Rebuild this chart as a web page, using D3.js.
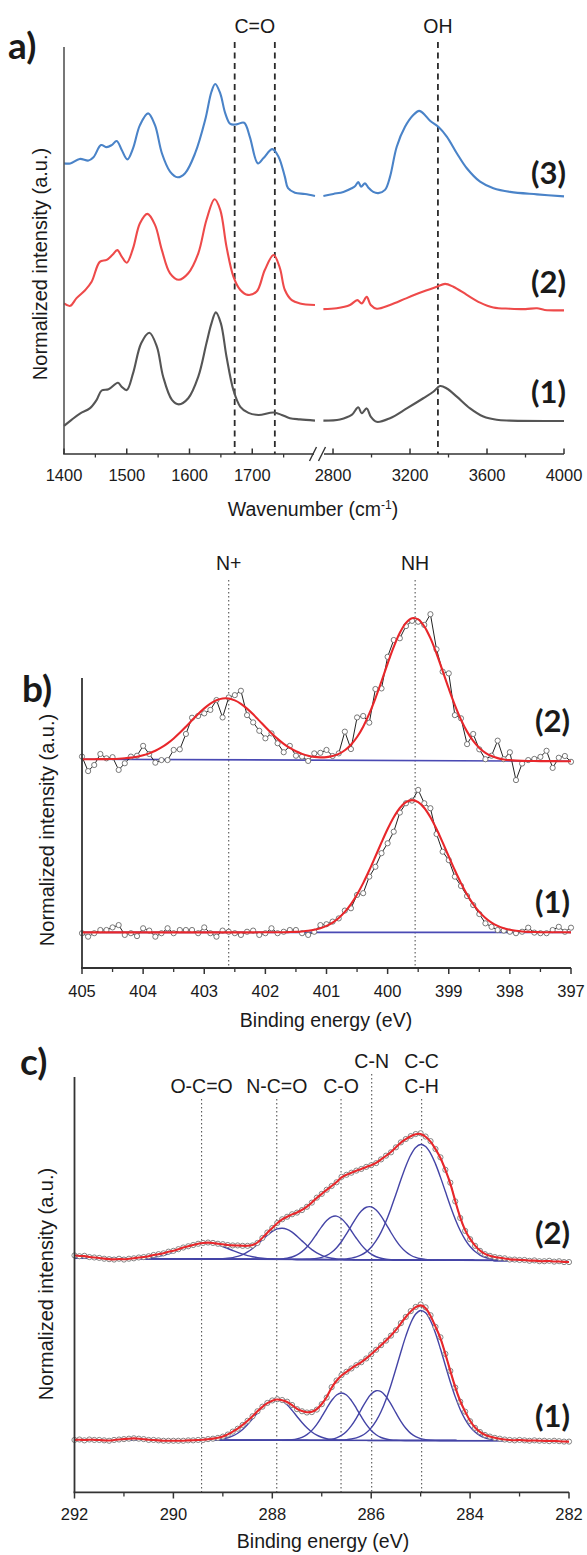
<!DOCTYPE html>
<html><head><meta charset="utf-8">
<script src="https://cdn.jsdelivr.net/npm/d3@7/dist/d3.min.js"></script>
<style>
html,body{margin:0;padding:0;background:#fff;}
svg{display:block;}
</style></head><body>
<svg id="fig" width="587" height="1555"></svg>
<script>
// ================= DATA =================
// Panel a: FTIR spectra (wavenumber cm-1, normalized intensity a.u., stacked)
const ftirTicksMajor = [1400,1500,1600,1700,2800,3200,3600,4000];
const ftirTicksMinor = [1450,1550,1650,1750,3000,3400,3800];
const ftirMarkerWave = [1672,1736,3345];
const ftirMarkerLabel = ["C=O","C=O","OH"];
const ftirSeriesLabel = ["(3)","(2)","(1)"];

const ftir3Wave = [1400,1410,1425,1439,1447,1459,1468,1476,1484,1492,1501,1510,1521,1534,1545,1556,1569,1581,1593,1609,1625,1635,1641,1649,1657,1665,1675,1687,1696,1709,1718,1732,1742,1752,1757,1768,1784,1800,
  2750,2802,2854,2897,2914,2931,2946,2966,2983,3009,3035,3070,3096,3131,3174,3217,3248,3269,3304,3347,3391,3443,3495,3564,3633,3720,3860,4000];
const ftir3Int = [71.4,71.4,72.5,72.1,72.9,75.9,75.4,75.9,76.9,74.7,72.4,75.1,80.8,83.7,80.8,73.9,69.4,68.0,69.0,73.9,82.1,89.0,90.9,88.6,83.7,81.1,81.0,81.4,78.0,71.4,72.7,74.9,73.0,68.1,65.3,64.2,63.9,63.4,
  63.4,63.9,64.4,65.3,65.8,66.8,65.7,66.5,65.5,64.4,64.1,64.9,68.1,75.5,80.4,83.3,84.3,83.7,81.9,80.4,78.0,73.9,70.2,66.9,65.3,64.4,63.8,63.3];

const ftir2Wave = [1400,1410,1420,1434,1444,1457,1468,1477,1485,1492,1500,1510,1521,1533,1545,1556,1569,1583,1598,1614,1627,1640,1649,1659,1670,1681,1693,1707,1720,1734,1744,1752,1763,1776,1800,
  2750,2819,2888,2926,2949,2975,2996,3027,3096,3183,3269,3339,3382,3425,3495,3564,3633,3720,3800,3860,3900,4000];
const ftir2Int = [37.0,36.4,38.3,40.3,42.3,47.2,47.7,48.9,50.1,48.5,47.0,50.5,56.7,59.0,56.3,50.1,44.4,42.8,44.4,49.3,57.5,62.6,60.0,50.9,43.6,40.3,39.1,39.9,45.2,48.9,45.7,40.3,37.8,37.0,36.6,
  35.6,35.8,36.6,37.8,37.0,38.6,36.6,35.7,36.6,38.3,39.9,41.1,41.8,41.1,39.1,37.2,36.0,35.7,35.6,35.8,35.4,35.3];

const ftir1Wave = [1400,1412,1426,1441,1452,1460,1471,1486,1492,1500,1510,1523,1536,1548,1558,1572,1583,1598,1614,1627,1635,1642,1650,1659,1670,1681,1694,1710,1734,1747,1760,1776,1800,
  2750,2836,2897,2931,2949,2975,2996,3027,3096,3183,3269,3321,3356,3391,3443,3512,3581,3650,3720,4000];
const ftir1Int = [6.9,8.4,10.0,11.2,13.3,15.6,15.9,17.5,16.5,15.7,19.8,27.2,29.8,26.4,19.0,13.3,12.2,13.7,19.0,27.2,32.1,34.8,32.1,23.9,15.7,11.6,10.1,9.6,10.2,9.6,8.8,8.5,8.2,
  8.2,8.5,9.6,11.5,10.0,11.2,9.2,7.9,8.8,11.2,13.7,15.3,16.7,16.1,14.1,11.2,9.2,8.4,8.2,8.1];

// Panel b: N1s XPS
const n1sTicksMajor = [405,404,403,402,401,400,399,398,397];
const n1sTicksMinor = [404.5,403.5,402.5,401.5,400.5,399.5,398.5,397.5];
const n1sMarkerEnergy = [402.6,399.55];
const n1sMarkerLabel = ["N+","NH"];
const n1sEnergy = [405.0,404.9,404.8,404.7,404.6,404.5,404.4,404.3,404.2,404.1,
  404.0,403.9,403.8,403.7,403.6,403.5,403.4,403.3,403.2,403.1,
  403.0,402.9,402.8,402.7,402.6,402.5,402.4,402.3,402.2,402.1,
  402.0,401.9,401.8,401.7,401.6,401.5,401.4,401.3,401.2,401.1,
  401.0,400.9,400.8,400.7,400.6,400.5,400.4,400.3,400.2,400.1,
  400.0,399.9,399.8,399.7,399.6,399.5,399.4,399.3,399.2,399.1,
  399.0,398.9,398.8,398.7,398.6,398.5,398.4,398.3,398.2,398.1,
  398.0,397.9,397.8,397.7,397.6,397.5,397.4,397.3,397.2,397.1,
  397.0];
const n1s2Int = [72.9,67.9,70.0,73.8,72.3,72.7,68.3,70.6,72.9,73.2,
  76.6,73.8,70.8,71.7,71.7,75.2,75.4,80.7,86.3,86.9,
  87.8,89.0,92.4,86.4,93.3,94.1,95.6,87.2,84.7,81.8,
  79.2,80.9,77.5,74.4,76.6,73.2,72.9,71.4,74.0,74.2,
  75.2,73.1,74.0,81.5,75.5,86.4,86.9,84.6,96.2,96.4,
  107.3,113.1,113.7,117.9,119.7,119.4,118.3,122.0,109.9,102.2,
  101.6,87.2,86.1,77.2,80.7,75.4,72.0,73.2,78.4,72.0,
  74.4,64.8,70.5,71.7,72.1,72.8,74.9,69.0,72.5,73.1,
  71.1];
const n1s1Int = [12.0,10.8,12.0,13.1,13.1,14.0,14.8,11.4,12.0,11.0,
  13.7,12.9,10.8,12.0,13.7,12.0,13.1,13.1,13.1,12.0,
  14.0,12.0,10.8,12.9,12.5,12.0,11.4,12.5,12.9,11.4,
  12.0,13.7,12.0,12.5,13.1,13.1,12.0,11.4,12.5,14.8,
  15.1,16.0,17.1,19.8,20.6,25.2,25.8,31.5,34.9,39.6,
  43.0,47.0,53.6,56.8,57.7,61.4,56.8,55.1,46.2,40.1,
  37.2,31.5,28.3,24.8,21.7,18.6,15.4,14.2,13.1,12.9,
  12.5,12.0,12.5,13.9,12.2,12.0,12.0,13.1,14.2,12.5,
  13.9];
// fitted peaks (center eV, height a.u., FWHM eV) and linear backgrounds (at 405 / 397 eV)
const n1s2Center = [402.65,399.57], n1s2Height = [21.2,49.2], n1s2Fwhm = [1.37,1.15];
const n1s2Background = [72.0,71.3];
const n1s1Center = [399.6], n1s1Height = [45.6], n1s1Fwhm = [1.34];
const n1s1Background = [12.3,12.3];

// Panel c: C1s XPS
const c1sTicksMajor = [292,290,288,286,284,282];
const c1sTicksMinor = [291,289,287,285,283];
const c1sMarkerEnergy = [289.43,287.91,286.61,285.99,284.98];
const c1sMarkerLabel = [["O-C=O"],["N-C=O"],["C-O"],["C-N"],["C-C","C-H"]];
const c1sEnergy = [292.0,291.9,291.8,291.7,291.6,291.5,291.4,291.3,291.2,291.1,
  291.0,290.9,290.8,290.7,290.6,290.5,290.4,290.3,290.2,290.1,
  290.0,289.9,289.8,289.7,289.6,289.5,289.4,289.3,289.2,289.1,
  289.0,288.9,288.8,288.7,288.6,288.5,288.4,288.3,288.2,288.1,
  288.0,287.9,287.8,287.7,287.6,287.5,287.4,287.3,287.2,287.1,
  287.0,286.9,286.8,286.7,286.6,286.5,286.4,286.3,286.2,286.1,
  286.0,285.9,285.8,285.7,285.6,285.5,285.4,285.3,285.2,285.1,
  285.0,284.9,284.8,284.7,284.6,284.5,284.4,284.3,284.2,284.1,
  284.0,283.9,283.8,283.7,283.6,283.5,283.4,283.3,283.2,283.1,
  283.0,282.9,282.8,282.7,282.6,282.5,282.4,282.3,282.2,282.1,
  282.0];
const c1s2Int = [57.0,56.8,56.9,56.6,56.5,56.4,56.2,56.1,56.0,56.2,
  56.0,56.2,56.3,56.5,56.6,56.8,57.1,57.3,57.5,57.9,
  58.1,58.5,58.9,59.2,59.5,59.8,60.0,60.1,60.0,59.8,
  59.7,59.5,59.4,59.4,59.3,59.3,59.4,60.0,61.2,62.5,
  63.6,64.8,65.7,66.3,66.9,67.3,67.9,68.7,69.7,70.9,
  71.8,72.8,73.7,74.6,75.9,76.4,76.9,77.4,77.8,78.3,
  78.7,79.2,80.1,81.0,81.8,83.0,84.2,85.0,85.7,86.2,
  86.4,85.6,84.5,82.6,80.6,77.6,74.5,70.0,66.0,62.9,
  60.9,59.3,58.1,57.3,56.9,56.6,56.4,56.3,56.0,56.0,
  55.9,55.9,55.7,55.8,55.6,55.6,55.7,55.5,55.6,55.4,
  55.4];
const c1s1Int = [12.6,12.7,12.5,12.7,12.6,12.6,12.5,12.4,12.6,12.7,
  12.8,12.9,13.0,12.9,12.8,12.6,12.6,12.5,12.4,12.4,
  12.4,12.4,12.4,12.5,12.5,12.6,12.6,12.8,12.9,13.1,
  13.4,13.9,14.6,15.3,16.2,17.2,18.3,19.5,20.6,21.5,
  22.1,22.4,22.2,21.8,21.0,20.0,19.5,19.2,19.3,19.9,
  21.2,22.8,25.3,26.9,28.2,29.0,29.8,30.6,31.3,32.2,
  33.2,34.3,35.4,36.5,37.7,39.0,40.7,42.2,43.6,44.6,
  45.2,44.5,42.6,39.8,37.3,33.3,29.2,25.2,21.8,19.4,
  17.1,15.5,14.5,13.8,13.4,13.1,12.9,12.7,12.6,12.5,
  12.6,12.5,12.4,12.5,12.4,12.4,12.3,12.4,12.3,12.2,
  12.2];
const c1s2Center = [289.35,287.81,286.73,286.04,284.99], c1s2Height = [3.9,7.5,10.5,12.8,27.8], c1s2Fwhm = [1.15,0.95,0.85,0.9,1.13];
const c1s2Background = [56.3,55.7];
const c1s1Center = [287.93,286.60,285.87,284.99], c1s1Height = [10.0,11.4,12.0,31.3], c1s1Fwhm = [0.96,0.8,0.8,1.1];
const c1s1Background = [12.6,12.4];

// ================= DRAWING =================
const svg = d3.select("#fig");
const SANS = '"Liberation Sans", Arial, Helvetica, sans-serif';
const BOLD = 'Lato, "Open Sans", "Noto Sans", sans-serif';
const AXC = "#333";
const RED = "#e8272b", BLUE = "#4444a6";

function seg(g, x1, y1, x2, y2, stroke, w, dash) {
  const l = g.append("line").attr("x1", x1).attr("y1", y1).attr("x2", x2).attr("y2", y2)
    .attr("stroke", stroke).attr("stroke-width", w);
  if (dash) l.attr("stroke-dasharray", dash);
  return l;
}
function txt(g, x, y, s, size, anchor, fam, weight) {
  return g.append("text").attr("x", x).attr("y", y).text(s)
    .attr("font-size", size).attr("text-anchor", anchor || "middle")
    .attr("font-family", fam || SANS).attr("font-weight", weight || "normal").attr("fill", "#1a1a1a");
}
function yTitle(g, cx, cy) {
  g.append("text").attr("transform", `translate(${cx},${cy}) rotate(-90)`)
    .attr("text-anchor", "middle").attr("dy", "0.35em")
    .attr("font-family", SANS).attr("font-size", 20).attr("fill", "#1a1a1a")
    .text("Normalized intensity (a.u.)");
}
const gaussian = (E, c, h, fwhm) => { const s = fwhm / 2.3548; return h * Math.exp(-0.5 * ((E - c) / s) ** 2); };

// ---------- Panel a ----------
{
  const g = svg.append("g");
  const x = d3.scaleLinear().domain([1400, 1800, 2750, 4000]).range([64, 315, 323.4, 564]);
  const y = d3.scaleLinear().domain([0, 100]).range([454, 47]);
  ftirMarkerWave.forEach(w => seg(g, x(w), 42, x(w), 454, "#2a2a2a", 1.8, "6,4.5"));
  txt(g, (x(ftirMarkerWave[0]) + x(ftirMarkerWave[1])) / 2, 33, ftirMarkerLabel[0], 19.5);
  txt(g, x(ftirMarkerWave[2]), 33, ftirMarkerLabel[2], 19.5);
  const ln = d3.line().x(d => x(d[0])).y(d => y(d[1])).curve(d3.curveCatmullRom.alpha(0.5));
  const series = [
    { w: ftir3Wave, v: ftir3Int, c: "#4a83c8" },
    { w: ftir2Wave, v: ftir2Int, c: "#ee4a4a" },
    { w: ftir1Wave, v: ftir1Int, c: "#555555" }
  ];
  series.forEach(s => {
    const pts = s.w.map((w, i) => [w, s.v[i]]);
    [pts.filter(p => p[0] <= 1800), pts.filter(p => p[0] >= 2750)].forEach(part =>
      g.append("path").attr("d", ln(part)).attr("fill", "none").attr("stroke", s.c).attr("stroke-width", 2.1));
  });
  seg(g, 64, 47, 64, 454, "#555", 1.6);
  seg(g, 63.2, 454, 314, 454, "#333", 1.6);
  seg(g, 324, 454, 564, 454, "#333", 1.6);
  seg(g, 309.5, 461, 316.5, 447, "#333", 1.4);
  seg(g, 318.5, 461, 325.5, 447, "#333", 1.4);
  ftirTicksMajor.forEach(t => { seg(g, x(t), 454, x(t), 448.5, "#333", 1.5); txt(g, x(t), 481, t, 16.5); });
  ftirTicksMinor.forEach(t => seg(g, x(t), 454, x(t), 457.5, "#333", 1.3));
  const xt = txt(g, 313, 516, "Wavenumber (cm", 19.5);
  xt.append("tspan").attr("dy", -7).attr("font-size", 12).text("-1");
  xt.append("tspan").attr("dy", 7).text(")");
  yTitle(g, 40, 264);
  txt(g, 8, 59, "a)", 37, "start", BOLD, 700);
  const ly = [173, 282, 392];
  ftirSeriesLabel.forEach((s, i) => txt(g, 566, ly[i] + 11, s, 31, "end", BOLD, 700));
}

// ---------- Panel b ----------
{
  const g = svg.append("g");
  const x = d3.scaleLinear().domain([405, 397]).range([82, 571]);
  const y = d3.scaleLinear().domain([0, 100]).range([968, 678]);
  n1sMarkerEnergy.forEach((e, i) => {
    seg(g, x(e), 580, x(e), 968, "#555", 1.1, "1.5,2.5");
    txt(g, x(e), 570, n1sMarkerLabel[i], 19.5);
  });
  const ptLine = d3.line().x(d => x(d[0])).y(d => y(d[1]));
  const fitLine = d3.line().x(d => x(d[0])).y(d => y(d[1])).curve(d3.curveCatmullRom.alpha(0.5));
  const sets = [
    { v: n1s2Int, c: n1s2Center, h: n1s2Height, f: n1s2Fwhm, b: n1s2Background },
    { v: n1s1Int, c: n1s1Center, h: n1s1Height, f: n1s1Fwhm, b: n1s1Background }
  ];
  sets.forEach(s => {
    const bg = d3.scaleLinear().domain([405, 397]).range(s.b);
    g.append("path").attr("d", ptLine([[405, s.b[0]], [397, s.b[1]]])).attr("stroke", "#4a4ab4").attr("stroke-width", 1.6).attr("fill", "none");
    const pts = n1sEnergy.map((e, i) => [e, s.v[i]]);
    g.append("path").attr("d", ptLine(pts)).attr("stroke", "#222").attr("stroke-width", 1).attr("fill", "none");
    g.selectAll(null).data(pts).enter().append("circle")
      .attr("cx", d => x(d[0])).attr("cy", d => y(d[1])).attr("r", 2.6)
      .attr("fill", "#fff").attr("stroke", "#6a6a6a").attr("stroke-width", 0.9);
    const fit = n1sEnergy.map(e => [e, bg(e) + s.c.reduce((a, c, k) => a + gaussian(e, c, s.h[k], s.f[k]), 0)]);
    g.append("path").attr("d", fitLine(fit)).attr("stroke", RED).attr("stroke-width", 2.1).attr("fill", "none");
  });
  seg(g, 82, 678, 82, 968, AXC, 1.8);
  seg(g, 81, 968, 571, 968, AXC, 1.8);
  n1sTicksMajor.forEach(t => { seg(g, x(t), 968, x(t), 974, AXC, 1.5); txt(g, x(t), 997, t, 16.5); });
  n1sTicksMinor.forEach(t => seg(g, x(t), 968, x(t), 972, AXC, 1.3));
  txt(g, 326, 1027, "Binding energy (eV)", 19.5);
  yTitle(g, 47, 830);
  txt(g, 22, 702, "b)", 37, "start", BOLD, 700);
  txt(g, 570, 732, "(2)", 31, "end", BOLD, 700);
  txt(g, 570, 913, "(1)", 31, "end", BOLD, 700);
}

// ---------- Panel c ----------
{
  const g = svg.append("g");
  const x = d3.scaleLinear().domain([292, 282]).range([74.5, 569]);
  const y = d3.scaleLinear().domain([0, 100]).range([1492.3, 1076.7]);
  c1sMarkerEnergy.forEach((e, i) => {
    const lab = c1sMarkerLabel[i];
    const raised = lab[0] === "C-N";
    seg(g, x(e), raised ? 1074 : 1099, x(e), 1492, "#555", 1.1, "1.5,2.5");
    if (lab.length === 2) { txt(g, x(e), 1068, lab[0], 19.5); txt(g, x(e), 1093, lab[1], 19.5); }
    else txt(g, x(e), raised ? 1068 : 1093, lab[0], 19.5);
  });
  const ptLine = d3.line().x(d => x(d[0])).y(d => y(d[1]));
  const compLine = d3.line().x(d => x(d[0])).y(d => y(d[1])).curve(d3.curveCatmullRom.alpha(0.5));
  const envLine = d3.line().x(d => x(d[0])).y(d => y(d[1])).curve(d3.curveBasis);
  const sets = [
    { v: c1s2Int, c: c1s2Center, h: c1s2Height, f: c1s2Fwhm, b: c1s2Background },
    { v: c1s1Int, c: c1s1Center, h: c1s1Height, f: c1s1Fwhm, b: c1s1Background }
  ];
  sets.forEach(s => {
    const bg = d3.scaleLinear().domain([292, 282]).range(s.b);
    g.append("path").attr("d", ptLine([[292, s.b[0]], [282, s.b[1]]])).attr("stroke", BLUE).attr("stroke-width", 1.4).attr("fill", "none");
    s.c.forEach((c, k) => {
      const comp = c1sEnergy.map(e => [e, bg(e) + gaussian(e, c, s.h[k], s.f[k])]);
      g.append("path").attr("d", compLine(comp)).attr("stroke", BLUE).attr("stroke-width", 1.4).attr("fill", "none");
    });
    const pts = c1sEnergy.map((e, i) => [e, s.v[i]]);
    g.append("path").attr("d", ptLine(pts)).attr("stroke", "#333").attr("stroke-width", 0.8).attr("fill", "none");
    g.selectAll(null).data(pts).enter().append("circle")
      .attr("cx", d => x(d[0])).attr("cy", d => y(d[1])).attr("r", 2.6)
      .attr("fill", "#fff").attr("stroke", "#777").attr("stroke-width", 0.9);
    g.append("path").attr("d", envLine(pts)).attr("stroke", RED).attr("stroke-width", 2.1).attr("fill", "none");
  });
  seg(g, 74.5, 1077, 74.5, 1492.3, AXC, 1.8);
  seg(g, 73.5, 1492.3, 569, 1492.3, AXC, 1.8);
  c1sTicksMajor.forEach(t => { seg(g, x(t), 1492.3, x(t), 1498.5, AXC, 1.5); txt(g, x(t), 1520, t, 16.5); });
  c1sTicksMinor.forEach(t => seg(g, x(t), 1492.3, x(t), 1496.5, AXC, 1.3));
  txt(g, 323, 1548, "Binding energy (eV)", 19.5);
  yTitle(g, 46, 1284);
  txt(g, 20, 1075, "c)", 37, "start", BOLD, 700);
  txt(g, 570, 1244, "(2)", 31, "end", BOLD, 700);
  txt(g, 570, 1427, "(1)", 31, "end", BOLD, 700);
}
</script>
</body></html>
